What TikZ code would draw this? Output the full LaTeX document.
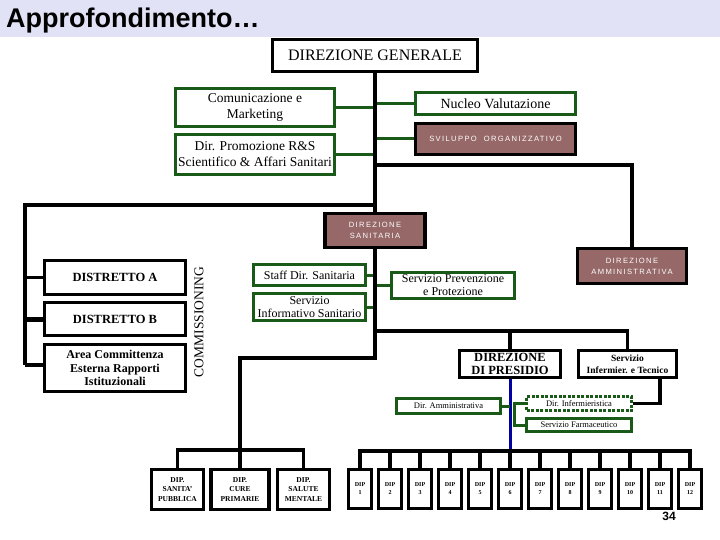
\documentclass[tikz,border=0pt]{standalone}
\usepackage{fontspec}
\setmainfont{Liberation Serif}
\newfontfamily\sansf{Liberation Sans}
\newfontfamily\sanssp[LetterSpace=18]{Liberation Sans}
\definecolor{bandc}{RGB}{226,226,246}
\definecolor{dgreen}{RGB}{25,90,25}
\definecolor{brownc}{RGB}{150,104,104}
\definecolor{dblue}{RGB}{0,0,165}
\tikzset{
  bbox/.style={draw=black, line width=3pt, fill=white, inner sep=0.5pt, align=center},
  gbox/.style={draw=dgreen, line width=3pt, fill=white, inner sep=0.5pt, align=center},
  rbox/.style={draw=black, line width=3.5pt, fill=brownc, text=white, inner sep=0.5pt, align=center,
    font=\sanssp\fontsize{7.6}{11}\selectfont},
  dipbox/.style={draw=black, line width=3.5pt, fill=white, inner sep=0.5pt, align=center,
    font=\bfseries\fontsize{7.5}{9.5}\selectfont, minimum height=40},
  dipn/.style={draw=black, line width=3.5pt, fill=white, inner sep=0.5pt, align=center,
    font=\bfseries\fontsize{6}{8}\selectfont, minimum width=23, minimum height=39},
  conn/.style={draw=black, line width=3.5pt},
  gconn/.style={draw=dgreen, line width=3pt},
  bconn/.style={draw=dblue, line width=3pt}
}
\begin{document}
\begin{tikzpicture}[x=1pt,y=-1pt]
\useasboundingbox (0,0) rectangle (720,540);
\fill[bandc] (0,0) rectangle (720,37);
\node[anchor=base west, inner sep=0, font=\sansf\bfseries\fontsize{27}{27}\selectfont] (title) at (6,28) {Approfondimento…};

% top
\node[bbox, minimum width=205, minimum height=32, font=\fontsize{16}{18}\selectfont] (dg) at (375,55.5) {DIREZIONE GENERALE};
\node[gbox, minimum width=159, minimum height=38, font=\fontsize{13.5}{16}\selectfont] (com) at (255,107.5) {Comunicazione e\\Marketing};
\node[gbox, minimum width=160, minimum height=22, font=\fontsize{14}{16}\selectfont] (nuc) at (495.5,103.5) {Nucleo Valutazione};
\node[rbox, minimum width=160, minimum height=31] (svi) at (495.5,139) {SVILUPPO\ \ ORGANIZZATIVO};
\node[gbox, minimum width=159, minimum height=40, font=\fontsize{13.5}{16}\selectfont] (prom) at (255,154.5) {Dir. Promozione R\&S\\Scientifico \& Affari Sanitari};

% middle
\node[rbox, minimum width=100, minimum height=34] (dsan) at (375,230.5) {DIREZIONE\\SANITARIA};
\node[rbox, minimum width=109, minimum height=35] (damm) at (632,266) {DIREZIONE\\AMMINISTRATIVA};
\node[gbox, minimum width=112, minimum height=21, font=\fontsize{12}{14}\selectfont] (staff) at (309.5,275) {Staff Dir. Sanitaria};
\node[gbox, minimum width=112, minimum height=27, font=\fontsize{12}{13}\selectfont] (sinf) at (309.5,307) {Servizio\\Informativo Sanitario};
\node[gbox, minimum width=123, minimum height=26, font=\fontsize{12}{13}\selectfont] (sprev) at (453,285.5) {Servizio Prevenzione\\e Protezione};

% left
\node[bbox, minimum width=141, minimum height=34, font=\bfseries\fontsize{12.5}{14}\selectfont] (dista) at (115,277.5) {DISTRETTO A};
\node[bbox, minimum width=141, minimum height=33, font=\bfseries\fontsize{12.5}{14}\selectfont] (distb) at (115,319) {DISTRETTO B};
\node[bbox, minimum width=141, minimum height=47, font=\bfseries\fontsize{12}{13.5}\selectfont] (area) at (115,368) {Area Committenza\\Esterna Rapporti\\Istituzionali};
\node[rotate=90, inner sep=0, font=\fontsize{13.5}{14}\selectfont] (comm) at (199,322) {COMMISSIONING};

% presidio level
\node[bbox, minimum width=101, minimum height=27, font=\bfseries\fontsize{12.5}{13}\selectfont] (pres) at (510,364) {DIREZIONE\\DI PRESIDIO};
\node[bbox, minimum width=98, minimum height=27, font=\bfseries\fontsize{9.5}{12}\selectfont] (sinfer) at (627.5,364) {Servizio\\Infermier. e Tecnico};
\node[gbox, minimum width=104, minimum height=15, font=\fontsize{8.5}{9}\selectfont] (dammm) at (448.5,406) {Dir. Amministrativa};
\node[gbox, dash pattern=on 3pt off 1.5pt, minimum width=105, minimum height=14, font=\fontsize{8.5}{9}\selectfont] (dinf) at (579,403.5) {Dir. Infermieristica};
\node[gbox, minimum width=105, minimum height=13, font=\fontsize{8.5}{9}\selectfont] (sfarm) at (579,425) {Servizio Farmaceutico};

% dip
\node[dipbox, minimum width=52] (dsp) at (177.5,489.5) {DIP.\\SANITA'\\PUBBLICA};
\node[dipbox, minimum width=58] (dcp) at (240,489.5) {DIP.\\CURE\\PRIMARIE};
\node[dipbox, minimum width=52] (dsm) at (303.5,489.5) {DIP.\\SALUTE\\MENTALE};
\foreach \i in {1,...,12}{
  \node[dipn] (d\i) at (330+30*\i,489) {DIP\\\i};
}
\node[font=\sansf\bfseries\fontsize{12}{12}\selectfont, inner sep=0] (pg) at (669,516) {34};

% connectors top
\draw[gconn] (com.east) -- (com.east -| dg.south);
\draw[gconn] (prom.east) -- (prom.east -| dg.south);
\draw[gconn] (nuc.west) -- (nuc.west -| dg.south);
\draw[gconn] (svi.west) -- (svi.west -| dg.south);
\draw[conn] (dg.south) -- (dsan.north);
\coordinate (ja) at (375,165);
\draw[conn] (ja) -| (damm.north);
\coordinate (jb) at (375,205);
\coordinate (lb) at (25,365);
\draw[conn] (jb) -| (lb);
\draw[conn] (dista.west) -- (dista.west -| lb);
\draw[conn, line width=5pt] (distb.west) -- (distb.west -| lb);
\draw[conn] (lb) -- (area.west |- lb);

% middle connectors
\draw[gconn] (staff.east) -- (staff.east -| dsan.south);
\draw[gconn] (sinf.east) -- (sinf.east -| dsan.south);
\draw[gconn] (sprev.west) -- (sprev.west -| dsan.south);
\coordinate (jc) at (240,358);
\coordinate (jd) at (240,450);
\draw[conn] (dsan.south) |- (jc) -- (jd);
\draw[conn] (dsp.north) -- (dsp.north |- jd) -- (dsm.north |- jd) -- (dsm.north);
\draw[conn] (jd) -- (dcp.north);
\coordinate (je) at (375,331);
\draw[conn] (je) -| (sinfer.north);
\draw[conn] (pres.north) -- (pres.north |- je);

% presidio sub
\coordinate (jrow) at (510,451);
\draw[bconn] (pres.south) -- (jrow);
\draw[gconn] (dammm.east) -- (dammm.east -| pres.south);
\coordinate (jg) at (514,403);
\draw[gconn] (dinf.west) -- (dinf.west -| jg) -- (sfarm.west -| jg) -- (sfarm.west);
\draw[conn] ([xshift=32.5pt]sinfer.south) |- (dinf.east);

% dip row
\draw[conn] (d1.north) -- (d1.north |- jrow) -- (d12.north |- jrow) -- (d12.north);
\foreach \i in {2,...,11}{
  \draw[conn] (d\i.north) -- (d\i.north |- jrow);
}
\end{tikzpicture}
\end{document}
